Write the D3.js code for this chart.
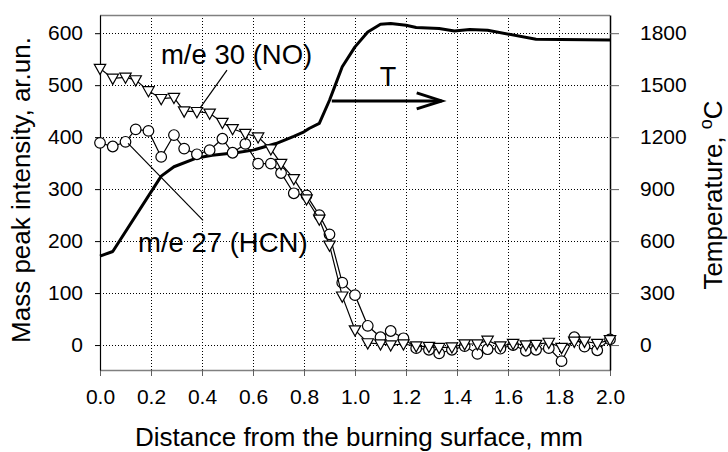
<!DOCTYPE html>
<html><head><meta charset="utf-8">
<script src="https://cdn.jsdelivr.net/npm/d3@7"></script>
<style>
body{margin:0;background:#fff}
text{font-family:"Liberation Sans",Arial,sans-serif;fill:#000}
</style>
</head><body><svg id="c" width="728" height="452"></svg>
<script>
// ---- data ----
const distance = [0.00,0.05,0.10,0.14,0.19,0.24,0.29,0.33,0.38,0.43,0.48,0.52,0.57,0.62,0.67,0.71,0.76,0.81,0.86,0.90,0.95,1.00,1.05,1.10,1.14,1.19,1.24,1.29,1.33,1.38,1.43,1.48,1.52,1.57,1.62,1.67,1.71,1.76,1.81,1.86,1.90,1.95,2.00];
const noSignal = [532,513,515,510,489,474,476,450,449,446,428,416,407,400,377,349,320,281,242,192,94,29,4,2,0,2,-2,-3,-5,-4,2,2,9,-2,3,0,1,5,-5,7,7,3,10];
const hcnSignal = [389,382,391,415,412,362,404,378,367,375,397,370,387,349,349,331,292,288,250,213,120,96,37,15,27,13,-6,-9,-16,-9,-2,-17,-8,-7,0,-11,-9,-6,-31,15,-3,-10,11];
const tempDistance = [0.00,0.05,0.24,0.29,0.38,0.44,0.54,0.60,0.69,0.76,0.80,0.82,0.86,0.90,0.92,0.95,1.00,1.05,1.10,1.14,1.20,1.24,1.33,1.39,1.45,1.52,1.71,2.00];
const temperature = [513,540,975,1029,1080,1096,1112,1125,1163,1205,1231,1250,1279,1413,1490,1606,1721,1807,1852,1856,1846,1833,1827,1813,1821,1817,1765,1760];
const xTicks = [0,0.2,0.4,0.6,0.8,1.0,1.2,1.4,1.6,1.8,2.0];
const yTicks = [0,100,200,300,400,500,600];
const tTicks = [0,300,600,900,1200,1500,1800];
const labels = {x:"Distance from the burning surface, mm", y:"Mass peak intensity, ar.un.", t:"Temperature, "};

// ---- layout ----
const L=100, R=610, T=15, B=370;
const svg = d3.select("#c");
svg.append("rect").attr("width",728).attr("height",452).attr("fill","#fff");
const x = d3.scaleLinear().domain([0,2]).range([L,R]);
const y = d3.scaleLinear().domain([-48,635]).range([B,T]);
const yT = d3.scaleLinear().domain([-144,1905]).range([B,T]);

// grid
const grid = svg.append("g").attr("stroke","#000").attr("stroke-width",1).attr("stroke-dasharray","1,2");
grid.selectAll("line.v").data(xTicks.filter(d=>d>0&&d<2)).join("line")
  .attr("x1",d=>Math.round(x(d))+0.5).attr("x2",d=>Math.round(x(d))+0.5).attr("y1",T).attr("y2",B);
grid.selectAll("line.h").data(yTicks).join("line")
  .attr("x1",L).attr("x2",R).attr("y1",d=>Math.round(y(d))+0.5).attr("y2",d=>Math.round(y(d))+0.5);

// frame
svg.append("line").attr("x1",L).attr("x2",R).attr("y1",T+0.5).attr("y2",T+0.5).attr("stroke","#808080").attr("stroke-width",1.5);

// axes
const fs=21;
const ax = svg.append("g").attr("transform",`translate(0,${B})`)
  .call(d3.axisBottom(x).tickValues(xTicks).tickFormat(d3.format(".1f")).tickSize(6).tickPadding(13).tickSizeOuter(0));
ax.select(".domain").attr("stroke","#808080").attr("stroke-width",1.5);
ax.selectAll(".tick line").attr("stroke","#606060");
ax.selectAll("text").attr("font-size",fs).attr("font-family","Liberation Sans, Arial");

const ay = svg.append("g").attr("transform",`translate(${L},0)`)
  .call(d3.axisLeft(y).tickValues(yTicks).tickFormat(d3.format("d")).tickSize(5).tickPadding(12).tickSizeOuter(0));
ay.select(".domain").attr("stroke","#000").attr("stroke-width",1.2);
ay.selectAll("text").attr("font-size",fs).attr("font-family","Liberation Sans, Arial");

const at = svg.append("g").attr("transform",`translate(${R},0)`)
  .call(d3.axisRight(yT).tickValues(tTicks).tickFormat(d3.format("d")).tickSize(9).tickPadding(21).tickSizeOuter(0));
at.select(".domain").attr("stroke","#000").attr("stroke-width",1.5);
at.selectAll(".tick line").attr("stroke","#606060");
at.selectAll("text").attr("font-size",fs).attr("font-family","Liberation Sans, Arial");

// axis titles
svg.append("text").attr("x",(L+R)/2+4).attr("y",446).attr("text-anchor","middle").attr("font-size",26).text(labels.x);
svg.append("text").attr("transform","translate(30,190) rotate(-90)").attr("text-anchor","middle").attr("font-size",26).text(labels.y);
const tt = svg.append("text").attr("transform","translate(722,195) rotate(-90)").attr("text-anchor","middle").attr("font-size",26);
tt.append("tspan").text(labels.t);
tt.append("tspan").attr("dy",-10).attr("font-size",18).text("o");
tt.append("tspan").attr("dy",10).text("C");

// temperature curve
svg.append("path").datum(d3.zip(tempDistance,temperature))
  .attr("fill","none").attr("stroke","#000").attr("stroke-width",3).attr("stroke-linejoin","round")
  .attr("d",d3.line().x(d=>x(d[0])).y(d=>yT(d[1])));

// HCN series
const hcn = d3.zip(distance,hcnSignal);
svg.append("path").datum(hcn).attr("fill","none").attr("stroke","#000").attr("stroke-width",1.2)
  .attr("d",d3.line().x(d=>x(d[0])).y(d=>y(d[1])));
svg.append("g").selectAll("circle").data(hcn).join("circle")
  .attr("cx",d=>x(d[0])).attr("cy",d=>y(d[1])).attr("r",5.3)
  .attr("fill","#fff").attr("stroke","#000").attr("stroke-width",1.2);

// NO series
const no = d3.zip(distance,noSignal);
svg.append("path").datum(no).attr("fill","none").attr("stroke","#000").attr("stroke-width",1.2)
  .attr("d",d3.line().x(d=>x(d[0])).y(d=>y(d[1])));
svg.append("g").selectAll("path").data(no).join("path")
  .attr("transform",d=>`translate(${x(d[0])},${y(d[1])})`)
  .attr("d","M-5.7,-4.2L5.7,-4.2L0,6Z")
  .attr("fill","#fff").attr("stroke","#000").attr("stroke-width",1.2).attr("stroke-linejoin","miter");

// annotations
svg.append("text").attr("x",x(0.239)).attr("y",y(540)).attr("font-size",27.5).text("m/e 30 (NO)");
svg.append("line").attr("x1",x(0.498)).attr("y1",y(529)).attr("x2",x(0.392)).attr("y2",y(456)).attr("stroke","#000").attr("stroke-width",1.2);
svg.append("text").attr("x",x(0.149)).attr("y",y(179)).attr("font-size",27.5).text("m/e 27 (HCN)");
svg.append("line").attr("x1",x(0.404)).attr("y1",y(240)).attr("x2",x(0.11)).attr("y2",y(388)).attr("stroke","#000").attr("stroke-width",1.2);
svg.append("text").attr("x",x(1.129)).attr("y",yT(1494)).attr("text-anchor","middle").attr("font-size",27).text("T");
const ay0 = yT(1409);
svg.append("line").attr("x1",x(0.909)).attr("x2",x(1.34)).attr("y1",ay0).attr("y2",ay0).attr("stroke","#000").attr("stroke-width",3);
svg.append("path").attr("d",`M${x(1.242)},${ay0-8}L${x(1.34)},${ay0}L${x(1.242)},${ay0+8}`)
  .attr("fill","none").attr("stroke","#000").attr("stroke-width",3);
</script>
</body></html>
